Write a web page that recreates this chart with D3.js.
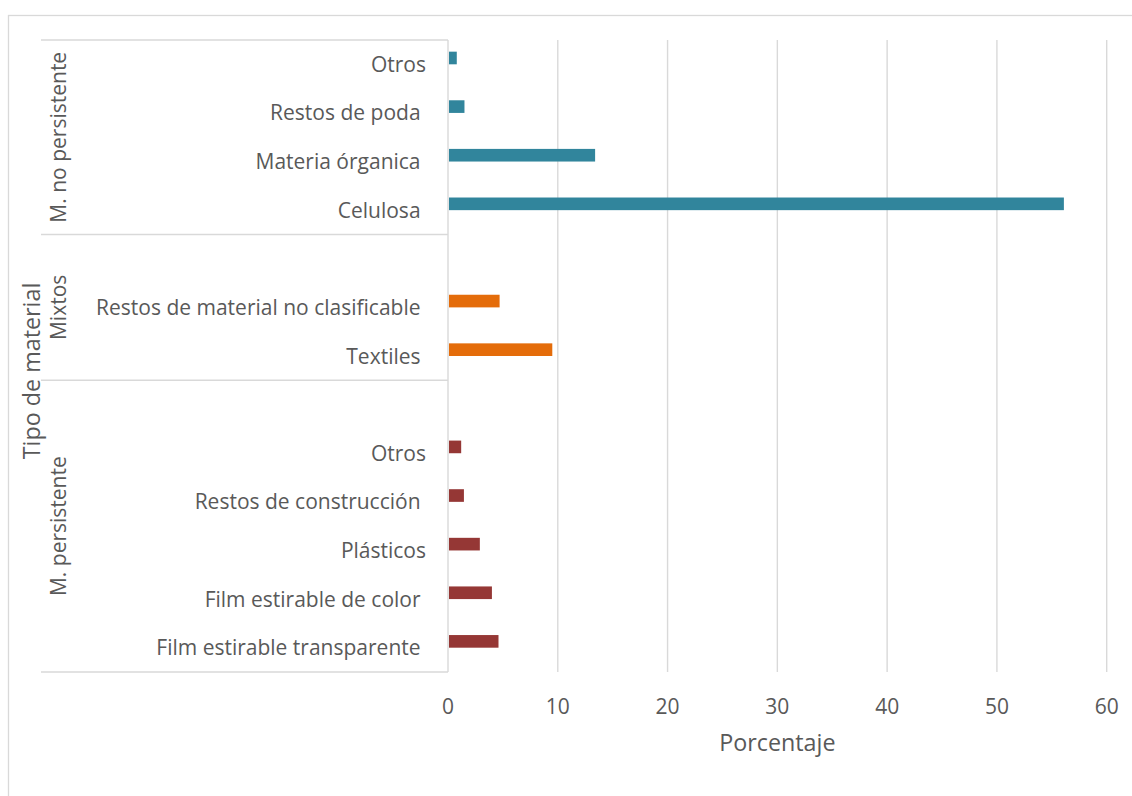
<!DOCTYPE html>
<html>
<head>
<meta charset="utf-8">
<script src="https://cdn.jsdelivr.net/npm/d3@7"></script>
<style>
  html, body { margin: 0; padding: 0; background: #ffffff; }
  svg { display: block; }
  text { font-family: "Open Sans", "Noto Sans", sans-serif; fill: #595959; }
</style>
</head>
<body>
<svg id="chart" width="1132" height="796"></svg>
<script>
// Material groups (outer category level)
const groups = ["M. no persistente", "Mixtos", "M. persistente"];
const groupColors = ["#31859c", "#e46c0a", "#953735"];

// Inner categories, top to bottom; "" marks an empty row in the sheet
const categories = [
  "Otros", "Restos de poda ", "Materia órganica ", "Celulosa ",
  "", "Restos de material no clasificable ", "Textiles ",
  "", "Otros", "Restos de construcción ", "Plásticos",
  "Film estirable de color ", "Film estirable transparente "
];
const groupOf = [0, 0, 0, 0, 1, 1, 1, 2, 2, 2, 2, 2, 2];

// Percentage per row
const values = [0.8, 1.5, 13.4, 56.1, null, 4.7, 9.5, null, 1.2, 1.45, 2.9, 4.0, 4.6];

const xTicks = [0, 10, 20, 30, 40, 50, 60];
const xTitle = "Porcentaje";
const yTitle = "Tipo de material";

const svg = d3.select("#chart");

const plot = { left: 448, right: 1106.7, top: 40, bottom: 672 };
const axisLeft = 41;

const x = d3.scaleLinear().domain([0, 60]).range([plot.left, plot.right]);
const y = d3.scaleBand().domain(d3.range(categories.length)).range([plot.top, plot.bottom]).padding(0);
const barH = y.bandwidth() * 0.26;

// Chart area frame
svg.append("rect")
  .attr("x", 8.5).attr("y", 15.5)
  .attr("width", 1200).attr("height", 900)
  .attr("fill", "none").attr("stroke", "#d9d9d9").attr("stroke-width", 1.3);

// Vertical gridlines
svg.append("g").selectAll("line").data(xTicks).join("line")
  .attr("x1", d => x(d)).attr("x2", d => x(d))
  .attr("y1", plot.top).attr("y2", plot.bottom)
  .attr("stroke", "#d9d9d9").attr("stroke-width", 1.4);

// Group separators of the category axis
const bounds = [0];
groupOf.forEach((g, i) => { if (i > 0 && g !== groupOf[i - 1]) bounds.push(i); });
bounds.push(categories.length);
svg.append("g").selectAll("line").data(bounds).join("line")
  .attr("x1", axisLeft).attr("x2", plot.left)
  .attr("y1", d => d === categories.length ? plot.bottom : y(d))
  .attr("y2", d => d === categories.length ? plot.bottom : y(d))
  .attr("stroke", "#d9d9d9").attr("stroke-width", 1.4);

// Bars
const rows = categories.map((c, i) => ({ i, c, v: values[i], g: groupOf[i] })).filter(d => d.v != null);
svg.append("g").selectAll("rect").data(rows).join("rect")
  .attr("x", x(0) + 1)
  .attr("y", d => y(d.i) + y.bandwidth() / 2 - barH)
  .attr("width", d => x(d.v) - x(0) - 1)
  .attr("height", barH)
  .attr("fill", d => groupColors[d.g]);

// Inner category labels
svg.append("g").selectAll("text").data(categories.map((c, i) => ({ c, i })).filter(d => d.c !== "")).join("text")
  .attr("x", 426)
  .attr("y", d => y(d.i) + y.bandwidth() / 2)
  .attr("dy", "0.36em")
  .attr("text-anchor", "end")
  .style("white-space", "pre")
  .attr("font-size", 21)
  .text(d => d.c);

// Outer group labels (rotated)
svg.append("g").selectAll("text").data(groups).join("text")
  .attr("transform", (g, k) => {
    const cy = (y(bounds[k]) + (bounds[k + 1] === categories.length ? plot.bottom : y(bounds[k + 1]))) / 2;
    return `translate(66,${cy}) rotate(-90)`;
  })
  .attr("text-anchor", "middle")
  .attr("font-size", 21)
  .text(d => d);

// Value axis tick labels
svg.append("g").selectAll("text").data(xTicks).join("text")
  .attr("x", d => x(d)).attr("y", 706)
  .attr("dy", "0.36em")
  .attr("text-anchor", "middle")
  .attr("font-size", 21)
  .text(d => d);

// Axis titles
svg.append("text")
  .attr("x", (plot.left + plot.right) / 2).attr("y", 743)
  .attr("dy", "0.36em")
  .attr("text-anchor", "middle")
  .attr("font-size", 23.3)
  .text(xTitle);

svg.append("text")
  .attr("transform", "translate(40,371) rotate(-90)")
  .attr("text-anchor", "middle")
  .attr("font-size", 23.3)
  .text(yTitle);
</script>
</body>
</html>
